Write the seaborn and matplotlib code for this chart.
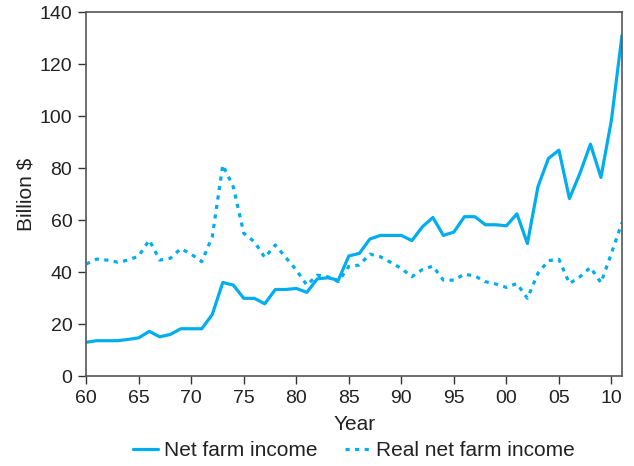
import matplotlib
matplotlib.use("Agg")
import matplotlib.pyplot as plt
import seaborn as sns
import pandas as pd
import numpy as np

years = list(range(60, 112))
net_income = [13.0, 13.6, 13.6, 13.6, 14.1, 14.7, 17.2, 15.1, 16.0, 18.2,
              18.2, 18.2, 23.7, 36.0, 35.0, 29.9, 29.9, 27.8, 33.3, 33.3,
              33.7, 32.2, 37.4, 37.8, 36.9, 46.2, 47.2, 52.7, 54.1, 54.1,
              54.1, 52.1, 57.4, 61.0, 54.1, 55.4, 61.3, 61.3, 58.2, 58.2,
              57.8, 62.4, 51.0, 72.8, 83.7, 86.9, 68.3, 78.0, 89.2, 76.4,
              98.5, 131.0]
real_income = [43.1, 45.0, 44.6, 43.8, 44.6, 46.2, 52.3, 44.6, 45.3, 49.0,
               46.9, 44.0, 53.6, 81.2, 72.8, 54.9, 51.7, 45.6, 50.4, 45.6,
               40.8, 35.0, 38.8, 38.2, 36.3, 42.2, 42.7, 46.9, 45.9, 43.7,
               41.4, 38.2, 41.0, 42.3, 36.9, 36.9, 39.2, 38.5, 36.3, 35.4,
               34.1, 35.6, 29.9, 39.5, 44.4, 44.9, 35.6, 38.2, 41.8, 35.9,
               47.2, 59.0]
x_ticks = [60, 65, 70, 75, 80, 85, 90, 95, 100, 105, 110]
x_tick_labels = ["60", "65", "70", "75", "80", "85", "90", "95", "00", "05", "10"]
y_ticks = [0, 20, 40, 60, 80, 100, 120, 140]

df = pd.DataFrame({"Year": years, "Net farm income": net_income,
                   "Real net farm income": real_income})

sns.set_theme(style="ticks")
plt.rcParams['font.family'] = ['Liberation Sans', 'DejaVu Sans']

color = "#00AEEF"
fig = plt.figure(figsize=(6.34, 4.66), dpi=100)
ax = fig.add_axes([0.136, 0.193, 0.845, 0.781])

sns.lineplot(data=df, x="Year", y="Net farm income", ax=ax, color=color,
             linewidth=2.3, label="Net farm income")
sns.lineplot(data=df, x="Year", y="Real net farm income", ax=ax, color=color,
             linewidth=2.3, linestyle=(0, (1.3, 1.7)), label="Real net farm income")

ax.set_xlim(60, 111)
ax.set_ylim(0, 140)
ax.set_xticks(x_ticks)
ax.set_xticklabels(x_tick_labels)
ax.set_yticks(y_ticks)
ax.tick_params(axis="both", labelsize=14, length=5.5, width=1, color="#333333",
               labelcolor="#222222", pad=4.5)
for s in ax.spines.values():
    s.set_color("#555555")
    s.set_linewidth(1.2)
ax.set_xlabel("Year", fontsize=15, color="#222222", labelpad=6)
ax.set_ylabel("Billion $", fontsize=15, color="#222222", labelpad=3)

ax.legend(loc="center", bbox_to_anchor=(0.5, -0.205), ncol=2, frameon=False,
          fontsize=15, handlelength=1.2, handletextpad=0.3, columnspacing=1.3,
          labelcolor="#222222", borderaxespad=0, borderpad=0)

fig.savefig("out.png", dpi=100)
